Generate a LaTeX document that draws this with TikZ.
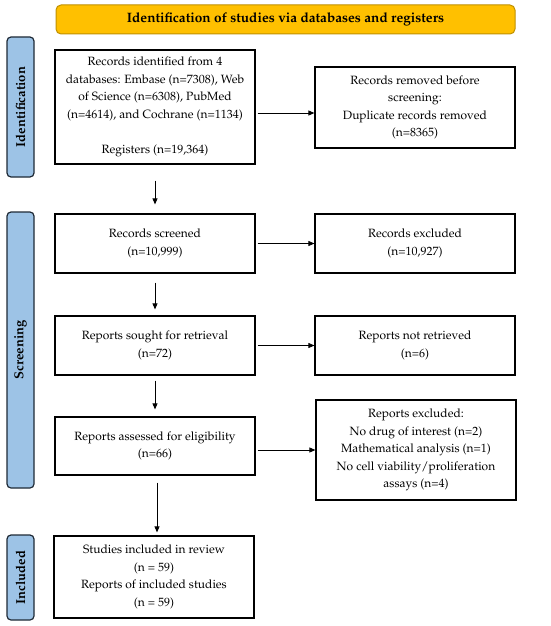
\documentclass[tikz,border=0pt]{standalone}
\usepackage[T1]{fontenc}
\usepackage{mathpazo}
\usetikzlibrary{arrows.meta,calc}
\definecolor{bannerfill}{HTML}{FFC000}
\definecolor{bannerdraw}{HTML}{BF9000}
\definecolor{sidefill}{HTML}{9DC3E6}
\definecolor{sidedraw}{HTML}{1F2A36}
\begin{document}
\begin{tikzpicture}[x=1pt,y=-1pt,
  box/.style={draw=black,line width=1.2pt,fill=white,align=center,inner sep=2pt,
    minimum width=200pt,font=\fontsize{12}{17.5}\selectfont},
  side/.style={draw=sidedraw,fill=sidefill,line width=1.2pt,rounded corners=4pt,
    minimum width=27pt,inner sep=0pt},
  sidetext/.style={rotate=90,font=\fontsize{13}{15}\selectfont\bfseries},
  arr/.style={-{Triangle[length=6pt,width=5pt]},line width=0.7pt}
]
\useasboundingbox (0,0) rectangle (550,626);
% banner
\node[draw=bannerdraw,fill=bannerfill,line width=1pt,rounded corners=5pt,
  minimum width=459pt,minimum height=29pt,font=\fontsize{13.6}{16}\selectfont\bfseries]
  (banner) at (285.5,19.5) {Identification of studies via databases and registers};
% side labels
\node[side,minimum height=140pt] (sid) at (20.5,107) {};
\node[sidetext] (sidt) at (sid.center) {Identification};
\node[side,minimum height=276pt] (ssc) at (20.5,350) {};
\node[sidetext] (ssct) at (ssc.center) {Screening};
\node[side,minimum height=85pt] (sin) at (20.5,577.5) {};
\node[sidetext] (sint) at (sin.center) {Included};
% boxes
\node[box,minimum height=114pt] (b1) at (155,107) {Records identified from 4\\databases: Embase (n=7308), Web\\of Science (n=6308), PubMed\\(n=4614), and Cochrane (n=1134)\\[17.5pt]Registers (n=19,364)};
\node[box,minimum height=81pt] (b2) at (415,107.5) {Records removed before\\screening:\\Duplicate records removed\\(n=8365)};
\node[box,minimum height=59pt] (b3) at (155,243.5) {Records screened\\(n=10,999)};
\node[box,minimum height=59pt] (b4) at (415,243.5) {Records excluded\\(n=10,927)};
\node[box,minimum height=59pt] (b5) at (155,345.5) {Reports sought for retrieval\\(n=72)};
\node[box,minimum height=59pt] (b6) at (415,345.5) {Reports not retrieved\\(n=6)};
\node[box,minimum height=58pt] (b7) at (155,446) {Reports assessed for eligibility\\(n=66)};
\node[box,minimum height=100pt] (b8) at (416,450) {Reports excluded:\\No drug of interest (n=2)\\Mathematical analysis (n=1)\\No cell viability/proliferation\\assays (n=4)};
\node[box,minimum height=82pt] (b9) at (154,577) {Studies included in review\\(n = 59)\\Reports of included studies\\(n = 59)};
% horizontal arrows
\draw[arr,shorten <=2pt] ([yshift=-6pt]b1.east) -- ([yshift=-6pt]b1.east -| b2.west);
\draw[arr,shorten <=2pt] (b3.east) -- (b4.west);
\draw[arr,shorten <=2pt] (b5.east) -- (b6.west);
\draw[arr,shorten <=2pt] ([yshift=-4pt]b7.east) -- ([yshift=-4pt]b7.east -| b8.west);
% vertical arrows
\draw[arr,shorten <=16pt,shorten >=9pt] (b1.south) -- (b3.north);
\draw[arr,shorten <=9pt,shorten >=6pt] (b3.south) -- (b5.north);
\draw[arr,shorten <=5pt,shorten >=7pt] (b5.south) -- (b7.north);
\draw[arr,shorten <=7pt,shorten >=3pt] ([xshift=2pt]b7.south) -- ([xshift=2pt]b7.south |- b9.north);
\end{tikzpicture}
\end{document}
